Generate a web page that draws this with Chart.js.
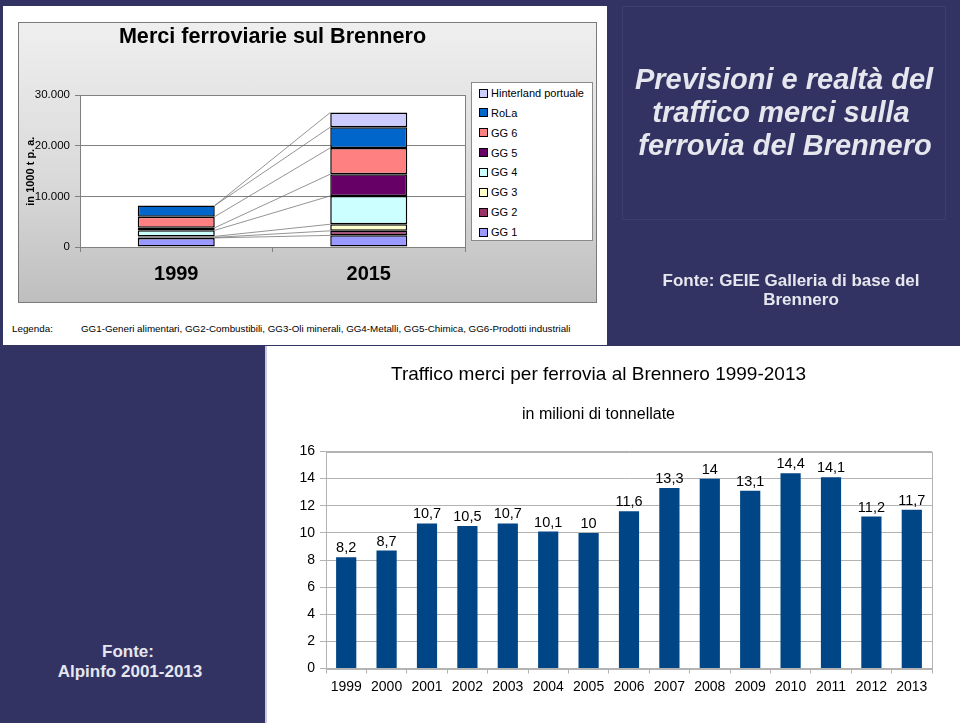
<!DOCTYPE html>
<html>
<head>
<meta charset="utf-8">
<script src="https://cdn.jsdelivr.net/npm/chart.js@4.4.1/dist/chart.umd.min.js"></script>
<style>
html,body{margin:0;padding:0;}
body{width:960px;height:723px;background:#333363;position:relative;overflow:hidden;font-family:"Liberation Sans",Arial,sans-serif;}
.abs{position:absolute;}
#panel1{left:3px;top:6px;width:604px;height:339px;background:#fff;}
#gray{left:18px;top:22px;width:579px;height:281px;background:linear-gradient(to bottom,#efefef 0%,#dadada 55%,#bebebe 100%);box-shadow:inset 0 0 0 1px #7a7a7a;}
#c1{position:absolute;left:0;top:0;}
#legend1{left:453px;top:60px;width:122px;height:159px;background:#fff;border:1px solid #8a8a8a;box-sizing:border-box;}
.li{position:absolute;left:7px;height:14px;font-size:11px;line-height:14px;color:#000;white-space:nowrap;}
.sw{display:inline-block;width:7px;height:7px;border:1px solid #000;vertical-align:middle;margin-right:3px;position:relative;top:-1px;}
#foot1{left:12px;top:323px;font-size:9.8px;color:#000;white-space:nowrap;}
#foot1b{left:81px;top:323px;font-size:9.8px;color:#000;white-space:nowrap;}
#tbox{left:622px;top:6px;width:324px;height:214px;box-shadow:inset 0 0 0 1px #3d3d6e;}
.rt{color:#e6e6ee;font-weight:bold;font-style:italic;font-size:29px;text-align:center;width:400px;white-space:nowrap;}
.fonte{color:#e6e6ee;font-weight:bold;font-size:17px;text-align:center;width:400px;white-space:nowrap;}
#panel2{left:265px;top:346px;width:695px;height:377px;background:#fff;box-shadow:inset 2px 0 0 0 #c9c9e3;}
#c2{position:absolute;left:0;top:0;}
</style>
</head>
<body>
<div id="panel1" class="abs"></div>
<div id="gray" class="abs"><canvas id="c1" width="579" height="281"></canvas><div id="legend1" class="abs"></div></div>
<div id="foot1" class="abs">Legenda:</div>
<div id="foot1b" class="abs">GG1-Generi alimentari, GG2-Combustibili, GG3-Oli minerali, GG4-Metalli, GG5-Chimica, GG6-Prodotti industriali</div>

<div id="tbox" class="abs"></div>
<div class="abs rt" style="left:584px;top:63px;">Previsioni e realtà del</div>
<div class="abs rt" style="left:581px;top:96px;">traffico merci sulla</div>
<div class="abs rt" style="left:585px;top:129px;">ferrovia del Brennero</div>
<div class="abs fonte" style="left:591px;top:271px;">Fonte: GEIE Galleria di base del</div>
<div class="abs fonte" style="left:601px;top:290px;">Brennero</div>

<div class="abs fonte" style="left:-72px;top:642px;">Fonte:</div>
<div class="abs fonte" style="left:-70px;top:662px;">Alpinfo 2001-2013</div>

<div id="panel2" class="abs"><canvas id="c2" width="695" height="377"></canvas></div>

<script>
// ---------- Data: top chart (Merci ferroviarie sul Brennero) ----------
const categories1 = ['1999', '2015'];
const seriesNames = ['GG 1', 'GG 2', 'GG 3', 'GG 4', 'GG 5', 'GG 6', 'RoLa', 'Hinterland portuale'];
const gg1 = [1800, 2300];
const gg2 = [100, 900];
const gg3 = [200, 1300];
const gg4 = [1200, 5600];
const gg5 = [500, 4300];
const gg6 = [2200, 5200];
const rola = [2200, 4100];
const hinterland = [0, 2900];
const yTickLabels1 = ['0', '10.000', '20.000', '30.000'];

// ---------- Data: bottom chart (Traffico merci 1999-2013) ----------
const years = ['1999','2000','2001','2002','2003','2004','2005','2006','2007','2008','2009','2010','2011','2012','2013'];
const traffic = [8.2, 8.7, 10.7, 10.5, 10.7, 10.1, 10, 11.6, 13.3, 14, 13.1, 14.4, 14.1, 11.2, 11.7];

const FONT = '"Liberation Sans", Arial, sans-serif';
Chart.defaults.font.family = FONT;
Chart.defaults.color = '#000';

const seriesData = [gg1, gg2, gg3, gg4, gg5, gg6, rola, hinterland];
const seriesColors = ['#9999FF', '#993366', '#FFFFCC', '#CCFFFF', '#660066', '#FF8080', '#0066CC', '#CCCCFF'];

// series lines between stacked bars
const seriesLines = {
  id: 'seriesLines',
  afterDatasetsDraw(chart) {
    const ctx = chart.ctx;
    ctx.save();
    ctx.strokeStyle = '#666666';
    ctx.lineWidth = 0.7;
    chart.data.datasets.forEach((ds, i) => {
      const meta = chart.getDatasetMeta(i);
      const a = meta.data[0], b = meta.data[1];
      if (!a || !b) return;
      ctx.beginPath();
      ctx.moveTo(a.x + a.width / 2, a.y);
      ctx.lineTo(b.x - b.width / 2, b.y);
      ctx.stroke();
    });
    ctx.restore();
  }
};
const areaBorder = (color) => ({
  id: 'areaBorder',
  beforeDatasetsDraw(chart) {
    const {left, top, width, height} = chart.chartArea;
    const ctx = chart.ctx;
    ctx.save();
    ctx.strokeStyle = color;
    ctx.lineWidth = 1;
    ctx.strokeRect(Math.round(left) + 0.5, Math.round(top) + 0.5, Math.round(width), Math.round(height));
    ctx.restore();
  }
});
const whiteArea = {
  id: 'whiteArea',
  beforeDraw(chart) {
    const {left, top, width, height} = chart.chartArea;
    chart.ctx.save();
    chart.ctx.fillStyle = '#fff';
    chart.ctx.fillRect(left, top, width, height);
    chart.ctx.restore();
  }
};

const chart1 = new Chart(document.getElementById('c1'), {
  type: 'bar',
  data: {
    labels: categories1,
    datasets: seriesNames.map((n, i) => ({
      label: n,
      data: seriesData[i],
      backgroundColor: seriesColors[i],
      borderColor: '#000',
      borderWidth: 1.5,
      borderSkipped: false,
      categoryPercentage: 1,
      barPercentage: 0.4
    }))
  },
  options: {
    responsive: false, animation: false, devicePixelRatio: 1,
    layout: {padding: {left: 0, right: 132, top: 0, bottom: 7}},
    plugins: {
      legend: {display: false},
      tooltip: {enabled: false},
      title: {display: true, fullSize: false, text: 'Merci ferroviarie sul Brennero',
        font: {size: 21.6, weight: 'bold'}, color: '#000', padding: {top: 2.4, bottom: 45}}
    },
    scales: {
      x: {stacked: true,
        grid: {offset: true, drawOnChartArea: false, tickLength: 5, color: '#808080'},
        border: {color: '#808080'},
        ticks: {font: {size: 20, weight: 'bold'}, color: '#000', padding: 10, maxRotation: 0}},
      y: {stacked: true, min: 0, max: 30000,
        ticks: {stepSize: 10000, font: {size: 11.5}, color: '#000', padding: 5,
          callback: (v, i) => yTickLabels1[i]},
        grid: {color: '#808080', tickLength: 5},
        border: {color: '#808080'},
        title: {display: true, text: 'in 1000 t p. a.', font: {size: 11, weight: 'bold'}, color: '#000', padding: {top: 6.4, bottom: 0}},
        afterFit: s => { s.width = 62; }}
    }
  },
  plugins: [whiteArea, areaBorder('#808080'), seriesLines]
});

// HTML legend built from chart datasets (reverse order, as in the original)
(function () {
  const box = document.getElementById('legend1');
  const items = chart1.data.datasets.map(d => ({label: d.label, color: d.backgroundColor})).reverse();
  items.forEach((it, i) => {
    const row = document.createElement('div');
    row.className = 'li';
    row.style.top = (3 + i * 19.86) + 'px';
    const sw = document.createElement('span');
    sw.className = 'sw';
    sw.style.background = it.color;
    row.appendChild(sw);
    row.appendChild(document.createTextNode(it.label));
    box.appendChild(row);
  });
})();

// value labels for bottom chart
const valueLabels = {
  id: 'valueLabels',
  afterDatasetsDraw(chart) {
    const ctx = chart.ctx;
    ctx.save();
    ctx.font = '14.5px ' + FONT;
    ctx.fillStyle = '#000';
    ctx.textAlign = 'center';
    ctx.textBaseline = 'alphabetic';
    const meta = chart.getDatasetMeta(0);
    meta.data.forEach((el, i) => {
      const v = chart.data.datasets[0].data[i];
      ctx.fillText(String(v).replace('.', ','), el.x, el.y - 5);
    });
    ctx.restore();
  }
};

new Chart(document.getElementById('c2'), {
  type: 'bar',
  data: {
    labels: years,
    datasets: [{label: 'Traffico merci', data: traffic, backgroundColor: '#004586',
      categoryPercentage: 1, barPercentage: 0.5}]
  },
  options: {
    responsive: false, animation: false, devicePixelRatio: 1,
    layout: {padding: {left: 0, right: 28, top: 0, bottom: 22.7}},
    plugins: {
      legend: {display: false},
      tooltip: {enabled: false},
      title: {display: true, text: 'Traffico merci per ferrovia al Brennero 1999-2013',
        font: {size: 19, weight: 'normal'}, color: '#000', padding: {top: 17.6, bottom: 12}},
      subtitle: {display: true, text: 'in milioni di tonnellate',
        font: {size: 16}, color: '#000', padding: {top: 7, bottom: 26.9}}
    },
    scales: {
      x: {grid: {offset: true, drawOnChartArea: false, tickLength: 5, color: '#b3b3b3'},
        border: {color: '#b3b3b3'},
        ticks: {font: {size: 14}, color: '#000', padding: 5, maxRotation: 0, autoSkip: false}},
      y: {min: 0, max: 16,
        ticks: {stepSize: 2, font: {size: 14}, color: '#000', padding: 5},
        grid: {color: '#b3b3b3', tickLength: 6},
        border: {color: '#b3b3b3'},
        afterFit: s => { s.width = 61; }}
    }
  },
  plugins: [areaBorder('#b3b3b3'), valueLabels]
});
</script>
</body>
</html>
